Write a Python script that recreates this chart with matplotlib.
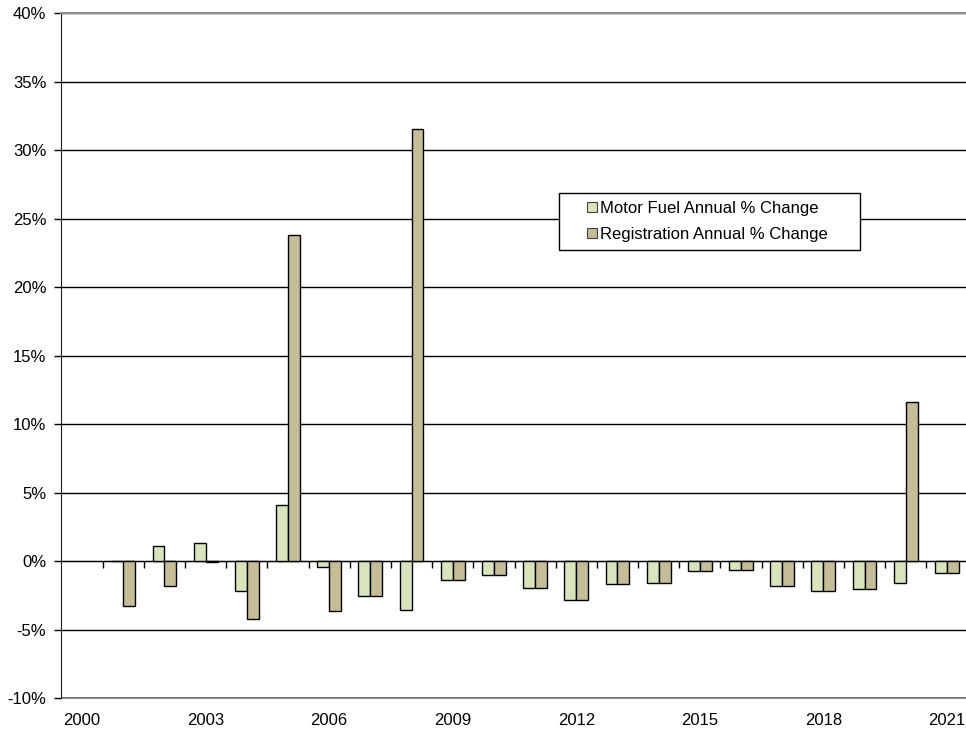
import numpy as np
import matplotlib.pyplot as plt
from matplotlib.patches import Rectangle
from matplotlib.ticker import FuncFormatter

plt.rcParams['font.family'] = ['Liberation Sans', 'DejaVu Sans']

# Data (annual % change); 2000 has no change value
years = list(range(2000, 2022))
motor_fuel = [np.nan, 0.0, 1.1, 1.3, -2.2, 4.1, -0.45, -2.55, -3.6, -1.4, -1.0,
              -2.0, -2.85, -1.7, -1.6, -0.7, -0.65, -1.85, -2.2, -2.05, -1.6, -0.9]
registration = [np.nan, -3.3, -1.8, -0.1, -4.2, 23.8, -3.65, -2.55, 31.5, -1.4, -1.0,
                -2.0, -2.85, -1.7, -1.6, -0.7, -0.65, -1.85, -2.2, -2.05, 11.6, -0.9]
label_years = years[::3]

fuel_color = '#D8E4BC'
reg_color = '#C4BD97'

fig = plt.figure(figsize=(9.66, 7.34), dpi=100)
ax = fig.add_axes([61.5 / 966, 1 - 698 / 734, 906 / 966, 685 / 734])

x = np.arange(len(years))
w = 0.29
ax.bar(x - w / 2, motor_fuel, width=w, color=fuel_color, edgecolor='black',
       linewidth=1, label='Motor Fuel Annual % Change', zorder=3)
ax.bar(x + w / 2, registration, width=w, color=reg_color, edgecolor='black',
       linewidth=1, label='Registration Annual % Change', zorder=3)

ax.set_xlim(-0.5, len(years) - 0.5)
ax.set_ylim(-10, 40)
ax.set_yticks(np.arange(-10, 41, 5))
ax.yaxis.set_major_formatter(FuncFormatter(lambda v, p: f'{v:.0f}%'))
ax.yaxis.grid(True, color='black', linewidth=1)
ax.set_axisbelow(True)
ax.tick_params(axis='y', direction='out', length=5, width=1, color='black',
               labelsize=12, pad=6)

# category axis drawn through zero, ticks between categories
ax.spines['bottom'].set_position(('data', 0))
ax.spines['bottom'].set_color('black')
ax.set_xticks(np.arange(0.5, len(years) - 0.5, 1))
ax.tick_params(axis='x', direction='out', length=5, width=1, labelbottom=False)
ax.spines['top'].set_color('#909090')
ax.spines['top'].set_linewidth(1.5)
ax.spines['right'].set_visible(False)
ax.spines['left'].set_color('#202020')

sec = ax.secondary_xaxis(0)
sec.set_xticks([years.index(y) for y in label_years])
sec.set_xticklabels([str(y) for y in label_years])
sec.tick_params(length=0, labelsize=12, pad=11)
sec.spines['bottom'].set_color('#909090')
sec.spines['bottom'].set_linewidth(1.5)

# legend, content centred in a wider frame
ax.add_patch(Rectangle((0.549, 0.654), 0.332, 0.083, transform=ax.transAxes,
                       facecolor='white', edgecolor='black', linewidth=1, zorder=4))
leg = ax.legend(loc='center', bbox_to_anchor=(0.713, 0.6955), fontsize=12,
                frameon=False, handlelength=0.55, handleheight=0.55,
                handletextpad=0.2, labelspacing=0.65, borderpad=0, borderaxespad=0)
leg.set_zorder(5)
for h in leg.legend_handles:
    h.set_linewidth(0.8)
    h.set_edgecolor('#404040')

fig.savefig('out.png', dpi=100)
